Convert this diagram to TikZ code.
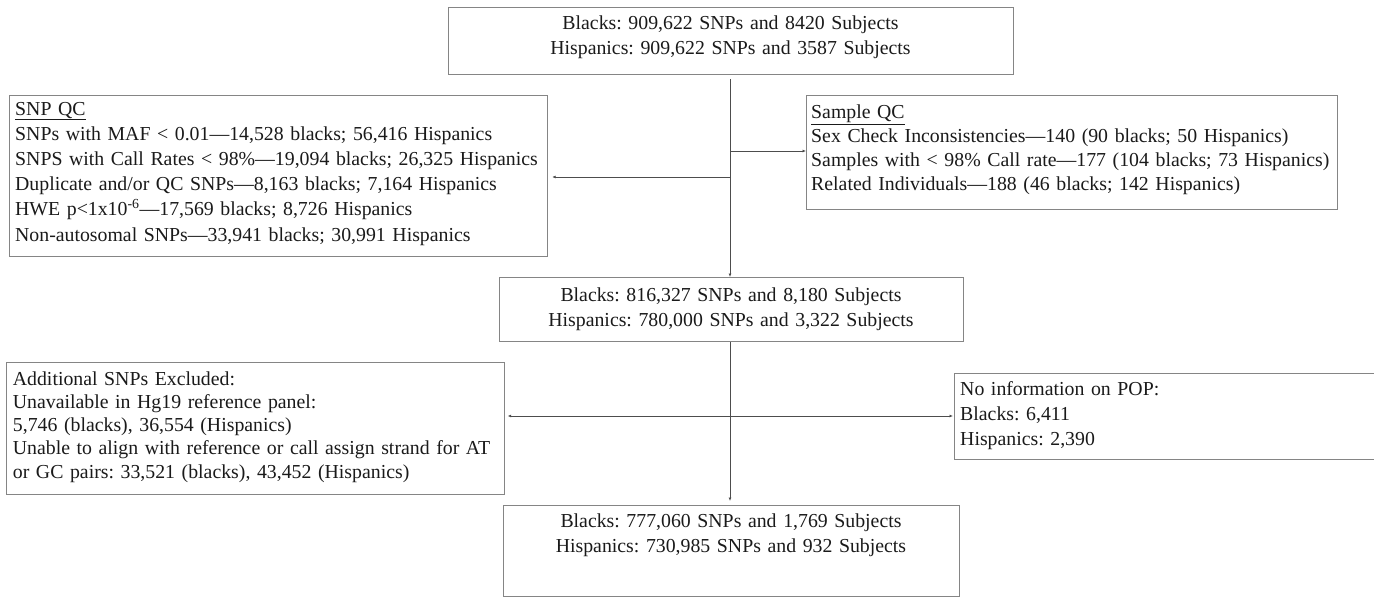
\documentclass[tikz,border=0pt]{standalone}
\usepackage{fontspec}
\setmainfont{Liberation Serif}
\usetikzlibrary{arrows.meta,calc}
\definecolor{boxgray}{HTML}{858585}
\definecolor{linegray}{HTML}{4D4D4D}
\definecolor{txtcol}{HTML}{1A1A1A}
\tikzset{
  box/.style={draw=boxgray, line width=1.2pt, rectangle, inner sep=0pt, anchor=north west},
  ltxt/.style={text=txtcol, inner sep=0pt, align=left, anchor=base west},
  ctxt/.style={text=txtcol, inner sep=0pt, align=center, anchor=base},
  conn/.style={draw=linegray, line width=0.9pt},
  arr/.style={conn, -{Latex[length=3.5pt,width=3pt]}},
  darr/.style={conn, {Latex[length=3.5pt,width=3pt]}-{Latex[length=3.5pt,width=3pt]}},
}
\newcommand{\fs}[1]{\fontsize{19.8}{#1}\selectfont\frenchspacing}
\begin{document}
\begin{tikzpicture}[x=1pt,y=-1pt]
\useasboundingbox[fill=white] (0,0) rectangle (1374,597);
% boxes
\node[box, minimum width=565pt, minimum height=67pt] (top) at (448,7) {};
\node[box, minimum width=538pt, minimum height=161pt] (snpqc) at (9,95) {};
\node[box, minimum width=531pt, minimum height=114pt] (sampleqc) at (806,95) {};
\node[box, minimum width=464pt, minimum height=64pt] (mid) at (499,277) {};
\node[box, minimum width=498pt, minimum height=132pt] (addl) at (6,362) {};
\node[box, minimum width=430pt, minimum height=86pt] (nopop) at (954,373) {};
\node[box, minimum width=456pt, minimum height=91pt] (final) at (503,505) {};
% texts
\node[ctxt, text width=565pt, font=\fs{25}] (toptxt) at (730.5,29)
  {Blacks: 909,622 SNPs and 8420 Subjects\\Hispanics: 909,622 SNPs and 3587 Subjects};
\node[ltxt, text width=530pt, font=\fs{25.2}] (snptxt) at (15,115)
  {\underline{SNP QC}\\
   SNPs with MAF < 0.01—14,528 blacks; 56,416 Hispanics\\
   SNPS with Call Rates < 98\%—19,094 blacks; 26,325 Hispanics\\
   Duplicate and/or QC SNPs—8,163 blacks; 7,164 Hispanics\\
   HWE p<1x10\textsuperscript{-6}—17,569 blacks; 8,726 Hispanics\\
   Non-autosomal SNPs—33,941 blacks; 30,991 Hispanics};
\node[ltxt, text width=525pt, font=\fs{24}] (samtxt) at (811,118.3)
  {\underline{Sample QC}\\
   Sex Check Inconsistencies—140 (90 blacks; 50 Hispanics)\\
   Samples with < 98\% Call rate—177 (104 blacks; 73 Hispanics)\\
   Related Individuals—188 (46 blacks; 142 Hispanics)};
\node[ctxt, text width=464pt, font=\fs{25}] (midtxt) at (731,301)
  {Blacks: 816,327 SNPs and 8,180 Subjects\\Hispanics: 780,000 SNPs and 3,322 Subjects};
\node[ltxt, text width=495pt, font=\fs{23.3}] (addltxt) at (12.7,385)
  {Additional SNPs Excluded:\\
   Unavailable in Hg19 reference panel:\\
   5,746 (blacks), 36,554 (Hispanics)\\
   Unable to align with reference or call assign strand for AT\\
   or GC pairs: 33,521 (blacks), 43,452 (Hispanics)};
\node[ltxt, text width=410pt, font=\fs{25}] (noptxt) at (960,395)
  {No information on POP:\\Blacks: 6,411\\Hispanics: 2,390};
\node[ctxt, text width=456pt, font=\fs{25}] (fintxt) at (731,527.5)
  {Blacks: 777,060 SNPs and 1,769 Subjects\\Hispanics: 730,985 SNPs and 932 Subjects};
% junctions
\coordinate (j0) at (730,79);
\coordinate (j1) at (730,151);
\coordinate (j2) at (730,177);
% connectors
\draw[arr] (j0) -- (mid.north -| j0);
\draw[arr] (j1) -- (sampleqc.west |- j1);
\draw[arr, shorten >=4pt] (j2) -- (snpqc.east |- j2);
\draw[arr, shorten >=4pt] (mid.south -| j0) -- (final.north -| j0);
\draw[darr, shorten <=2.5pt, shorten >=1pt] (addl.east |- 0,416) -- (nopop.west |- 0,416);
\end{tikzpicture}
\end{document}
